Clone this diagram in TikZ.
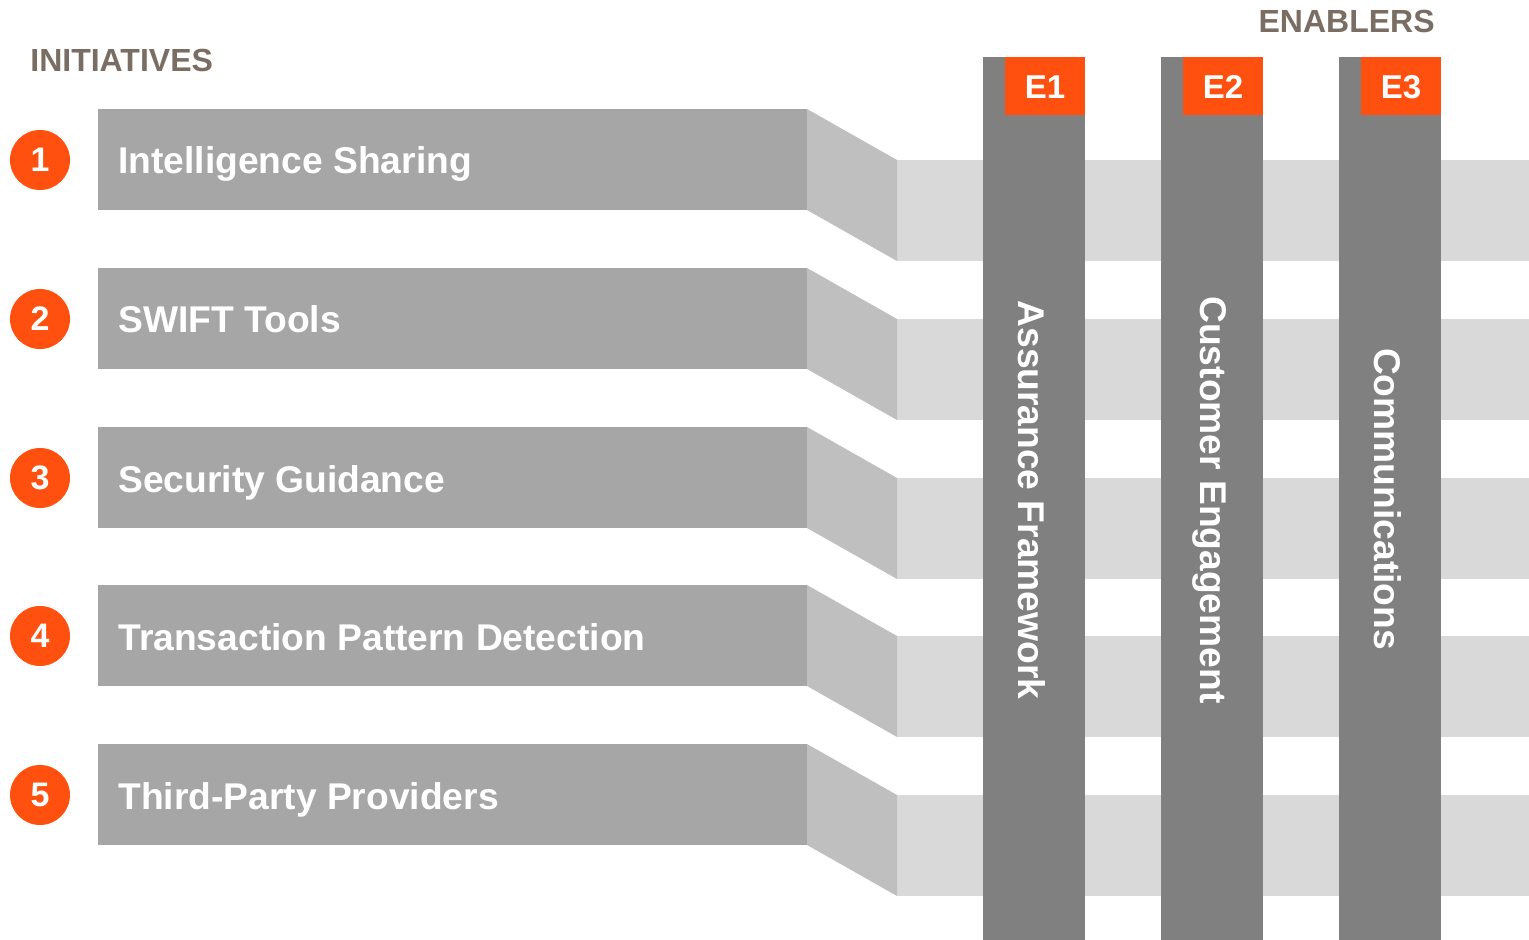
\documentclass[tikz,border=0pt]{standalone}
\usepackage{fontspec}
\setmainfont{Liberation Sans}
\definecolor{orng}{HTML}{FF5010}
\definecolor{boxgray}{HTML}{A6A6A6}
\definecolor{sidegray}{HTML}{BFBFBF}
\definecolor{bandgray}{HTML}{D9D9D9}
\definecolor{bargray}{HTML}{808080}
\definecolor{titlecol}{HTML}{7A6E64}
\tikzset{
  initbox/.style={fill=boxgray},
  sidebox/.style={fill=sidegray},
  bandbox/.style={fill=bandgray},
  barbox/.style={fill=bargray},
  tagbox/.style={fill=orng},
  numcirc/.style={circle,fill=orng,minimum size=30pt,inner sep=0pt,text=white,font=\bfseries\fontsize{17}{20}\selectfont},
  inittext/.style={anchor=base west,text=white,font=\bfseries\fontsize{18.6}{22}\selectfont,inner sep=0pt},
  tagtext/.style={text=white,font=\bfseries\fontsize{16.5}{19}\selectfont,inner sep=0pt},
  bartext/.style={text=white,font=\bfseries\fontsize{18.6}{22}\selectfont,rotate=-90,inner sep=0pt},
  titletext/.style={text=titlecol,font=\bfseries\fontsize{16}{19}\selectfont,inner sep=0pt}
}
\begin{document}
\begin{tikzpicture}[x=0.5pt,y=-0.5pt]
\useasboundingbox (0,0) rectangle (1529,940);
% bands
\foreach \t [count=\i] in {109,268,427,585,744}{
  \fill[bandbox] (897,\t+51) rectangle (1529,\t+152);
  \fill[sidebox] (807,\t) -- (897,\t+51) -- (897,\t+152) -- (807,\t+101) -- cycle;
  \fill[initbox] (98,\t) rectangle (807,\t+101);
  \node[numcirc] (c\i) at (40,\t+51) {\i};
}
\node[inittext] (t1) at (118,174) {Intelligence Sharing};
\node[inittext] (t2) at (118,333) {SWIFT Tools};
\node[inittext] (t3) at (118,492) {Security Guidance};
\node[inittext] (t4) at (118,650) {Transaction Pattern Detection};
\node[inittext] (t5) at (118,809) {Third-Party Providers};
% bars
\foreach \x/\lab [count=\i] in {983/E1,1161/E2,1339/E3}{
  \fill[barbox] (\x,57) rectangle (\x+102,940);
  \fill[tagbox] (\x+22,57) rectangle (\x+102,115);
  \node[tagtext] (e\i) at (\x+62,87) {\lab};
}
\node[bartext] (b1) at (1032,500) {Assurance Framework};
\node[bartext] (b2) at (1210,500) {Customer Engagement};
\node[bartext] (b3) at (1388,499) {Communications};
\node[titletext,anchor=west] (ti) at (30,60) {INITIATIVES};
\node[titletext,anchor=east] (te) at (1435,21) {ENABLERS};
\end{tikzpicture}
\end{document}
